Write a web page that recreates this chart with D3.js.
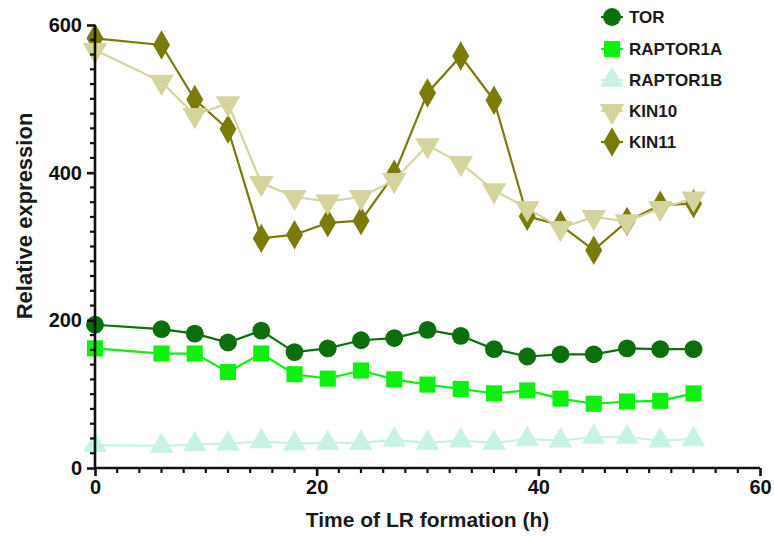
<!DOCTYPE html>
<html>
<head>
<meta charset="utf-8">
<script src="https://cdn.jsdelivr.net/npm/d3@7"></script>
<style>
  html, body { margin: 0; padding: 0; background: #fff; }
  svg { display: block; font-family: "Liberation Sans", Arial, sans-serif; }
</style>
</head>
<body>
<svg id="chart" width="774" height="538"></svg>
<script>
// ---- data ----
const times = [0, 6, 9, 12, 15, 18, 21, 24, 27, 30, 33, 36, 39, 42, 45, 48, 51, 54];
const tor       = [194, 188, 182, 170, 186, 157, 162, 173, 176, 187, 179, 161, 151, 154, 154, 162, 161, 161];
const raptor1a  = [162, 155, 155, 130, 155, 127, 121, 132, 120, 113, 107, 101, 105, 94, 87, 90, 91, 101];
const raptor1b  = [31, 30, 32, 33, 36, 33, 34, 34, 38, 34, 37, 34, 39, 37, 42, 42, 37, 39];
const kin10     = [566, 523, 478, 494, 386, 367, 361, 367, 390, 437, 413, 376, 352, 325, 340, 334, 352, 365];
const kin11     = [582, 573, 499, 459, 311, 316, 332, 335, 398, 508, 558, 498, 341, 329, 295, 334, 356, 358];
const seriesNames = ["TOR", "RAPTOR1A", "RAPTOR1B", "KIN10", "KIN11"];
const xTicks = [0, 20, 40, 60];
const yTicks = [0, 200, 400, 600];
const xTitle = "Time of LR formation (h)";
const yTitle = "Relative expression";

const seriesValues = [tor, raptor1a, raptor1b, kin10, kin11];
const colors = ["#0d6e0d", "#0ef00e", "#c8f2e2", "#d6d49e", "#7b7b0c"];
const shapes = [d3.symbolCircle, d3.symbolSquare, d3.symbolTriangle, "tridown", d3.symbolDiamond];

const svg = d3.select("#chart");
const x = d3.scaleLinear().domain([0, 60]).range([95, 760]);
const y = d3.scaleLinear().domain([0, 600]).range([468, 25]);

function symbolPath(shape, size) {
  if (shape === "tridown") {
    return d3.symbol(d3.symbolTriangle, size)();
  }
  return d3.symbol(shape, size)();
}
const sizes = [250, 260, 240, 260, 250];

const series = seriesNames.map((name, i) => ({
  name, color: colors[i], shape: shapes[i], size: sizes[i],
  values: times.map((t, j) => ({ t, v: seriesValues[i][j] }))
}));

const drawOrder = [2, 1, 0, 4, 3];
const line = d3.line().x(d => x(d.t)).y(d => y(d.v));

drawOrder.forEach(i => {
  const s = series[i];
  const g = svg.append("g");
  g.append("path").attr("d", line(s.values))
    .attr("fill", "none").attr("stroke", s.color).attr("stroke-width", 2.2);
  g.selectAll("path.m").data(s.values).enter().append("path")
    .attr("class", "m")
    .attr("d", symbolPath(s.shape, s.size))
    .attr("transform", d => `translate(${x(d.t)},${y(d.v)})` + (s.shape === "tridown" ? " rotate(180)" : ""))
    .attr("fill", s.color);
});

// ---- axes ----
const axisColor = "#111";
const xAxis = d3.axisBottom(x).tickValues(xTicks).tickSize(8).tickPadding(4).tickFormat(d3.format("d"));
const gx = svg.append("g").attr("transform", `translate(0,${y(0)})`).call(xAxis);
gx.select(".domain").attr("d", `M${x(0)},0H${x(60)}`).attr("stroke", axisColor).attr("stroke-width", 2.6);
gx.selectAll(".tick line").attr("stroke", axisColor).attr("stroke-width", 2.6);
gx.selectAll(".tick text").attr("font-size", 20).attr("font-weight", "bold").attr("fill", "#111");
svg.append("g").selectAll("line").data(d3.range(0, 61, 2).filter(v => v % 20 !== 0)).enter().append("line")
  .attr("x1", d => x(d)).attr("x2", d => x(d)).attr("y1", y(0)).attr("y2", y(0) + 5)
  .attr("stroke", axisColor).attr("stroke-width", 2.2);

const yAxis = d3.axisLeft(y).tickValues(yTicks).tickSize(8).tickPadding(5).tickFormat(d3.format("d"));
const gy = svg.append("g").attr("transform", `translate(${x(0)},0)`).call(yAxis);
gy.select(".domain").attr("d", `M0,${y(0)}V${y(600)}`).attr("stroke", axisColor).attr("stroke-width", 2.6);
gy.selectAll(".tick line").attr("stroke", axisColor).attr("stroke-width", 2.6);
gy.selectAll(".tick text").attr("font-size", 20).attr("font-weight", "bold").attr("fill", "#111");
svg.append("g").selectAll("line").data(d3.range(0, 601, 20).filter(v => v % 200 !== 0)).enter().append("line")
  .attr("x1", x(0)).attr("x2", x(0) - 5).attr("y1", d => y(d)).attr("y2", d => y(d))
  .attr("stroke", axisColor).attr("stroke-width", 2.2);

// titles
svg.append("text").attr("x", (x(0) + x(60)) / 2).attr("y", 527)
  .attr("text-anchor", "middle").attr("font-size", 21).attr("font-weight", "bold").attr("fill", "#1a1a1a")
  .text(xTitle);
svg.append("text").attr("transform", `translate(32,216) rotate(-90)`)
  .attr("text-anchor", "middle").attr("font-size", 22).attr("font-weight", "bold").attr("fill", "#1a1a1a")
  .text(yTitle);

// legend
const legend = svg.append("g");
const legendY = [17, 49, 80, 111, 142];
series.forEach((s, i) => {
  const g = legend.append("g").attr("transform", `translate(612,${legendY[i]})`);
  g.append("line").attr("x1", -11).attr("x2", 11).attr("y1", 0).attr("y2", 0)
    .attr("stroke", s.color).attr("stroke-width", 2.2);
  g.append("path").attr("d", symbolPath(s.shape, s.size))
    .attr("transform", s.shape === "tridown" ? "rotate(180)" : null)
    .attr("fill", s.color);
  g.append("text").attr("x", 17).attr("y", 0).attr("dy", "0.36em")
    .attr("font-size", 17).attr("font-weight", "bold").attr("fill", "#1a1a1a").text(s.name);
});
</script>
</body>
</html>
